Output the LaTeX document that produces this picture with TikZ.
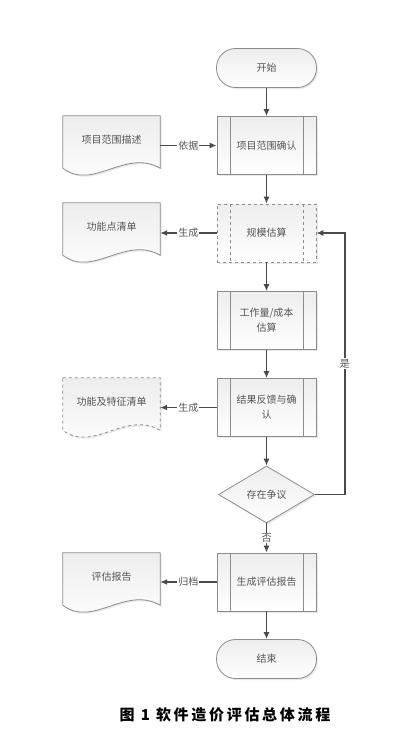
\documentclass[tikz,border=0pt]{standalone}
\usepackage{fontspec}
\setmainfont{Noto Sans CJK SC}
\newfontfamily\capfont[LetterSpace=18]{Noto Sans CJK SC}
\usetikzlibrary{arrows.meta,shapes.geometric,shadows,calc,backgrounds}
\definecolor{edge}{HTML}{8C8C8C}
\definecolor{txt}{HTML}{555555}
\definecolor{conn}{HTML}{4A4A4A}
\newcommand\mydoc[1]{(#1.north west) -- (#1.north east) -- ($(#1.south east)+(0,4)$) .. controls ($(#1.south east)+(-35,-16)$) and ($(#1.south west)+(30,27)$) .. ($(#1.south west)+(0,4)$) -- cycle}
\tikzset{
  shad/.style={drop shadow={opacity=0.18,shadow xshift=1.5pt,shadow yshift=-1.5pt}},
  base/.style={draw=edge, line width=0.8pt, top color=gray!14, bottom color=white, text=txt,
    font=\fontsize{10}{15}\selectfont, align=center, shad},
  term/.style={base, rectangle, rounded corners=19pt, minimum width=100pt, minimum height=39pt},
  innerlines/.style={path picture={\draw[edge,line width=0.8pt,#1]
      ([xshift=13pt]path picture bounding box.north west) -- ([xshift=13pt]path picture bounding box.south west)
      ([xshift=-13pt]path picture bounding box.north east) -- ([xshift=-13pt]path picture bounding box.south east);}},
  proc/.style={base, rectangle, minimum width=99pt, minimum height=58pt, inner sep=0pt, innerlines=solid},
  procdash/.style={base, rectangle, dashed, minimum width=99pt, minimum height=58pt, inner sep=0pt, innerlines=dashed},
  decision/.style={base, diamond, minimum width=96pt, minimum height=57pt, inner sep=0pt, aspect=1.7},
  docnode/.style={rectangle, minimum width=97pt, minimum height=48pt, inner sep=0pt, text=txt,
    font=\fontsize{10}{15}\selectfont},
  docline/.style={draw=edge, line width=0.8pt, top color=gray!14, bottom color=white, shad},
  conn/.style={draw=conn, line width=1.3pt, -{Latex[length=7pt,width=6pt]}},
  lab/.style={fill=white, text=txt, font=\fontsize{10}{12}\selectfont, inner sep=1pt}
}
\begin{document}
\begin{tikzpicture}[x=1pt,y=-1pt]
\useasboundingbox (0,0) rectangle (420,750);
% main column
\node[term] (start) at (266.5,68) {开始};
\node[proc] (b1) at (266.5,145.5) {项目范围确认};
\node[procdash] (b2) at (266.5,233) {规模估算};
\node[proc] (b3) at (266.5,320.5) {工作量/成本\\估算};
\node[proc] (b4) at (266.5,407.5) {结果反馈与确\\认};
\node[decision] (dia) at (266.5,494.5) {存在争议};
\node[proc] (b5) at (266.5,582) {生成评估报告};
\node[term] (end) at (266.5,659) {结束};
% documents
\node[docnode] (d1) at (111.5,140) {项目范围描述};
\node[docnode] (d2) at (111.5,227) {功能点清单};
\node[docnode] (d3) at (111.5,402) {功能及特征清单};
\node[docnode] (d4) at (111.5,577) {评估报告};
\begin{scope}[on background layer]
  \shade[docline] \mydoc{d1};
  \shade[docline] \mydoc{d2};
  \shade[docline,dashed] \mydoc{d3};
  \shade[docline] \mydoc{d4};
\end{scope}
% connectors
\draw[conn] (start) -- (b1);
\draw[conn] (b1) -- (b2);
\draw[conn] (b2) -- (b3);
\draw[conn] (b3) -- (b4);
\draw[conn] (b4) -- (dia);
\draw[conn] (dia) -- (b5) node[lab,midway] {否};
\draw[conn] (b5) -- (end);
\draw[conn] (dia.east) -- ++(30,0) |- (b2.east) node[lab,pos=0.25] {是};
\draw[conn] (d1.east |- b1.west) -- (b1.west) node[lab,midway] {依据};
\draw[conn] (b2.west) -- (d2.east |- b2.west) node[lab,midway] {生成};
\draw[conn] (b4.west) -- (d3.east |- b4.west) node[lab,midway] {生成};
\draw[conn] (b5.west) -- (d4.east |- b5.west) node[lab,midway] {归档};
% caption
\node[font={\capfont\bfseries\fontsize{15}{18}\selectfont}] (cap) at (225,715) {图 1 软件造价评估总体流程};
\end{tikzpicture}
\end{document}
